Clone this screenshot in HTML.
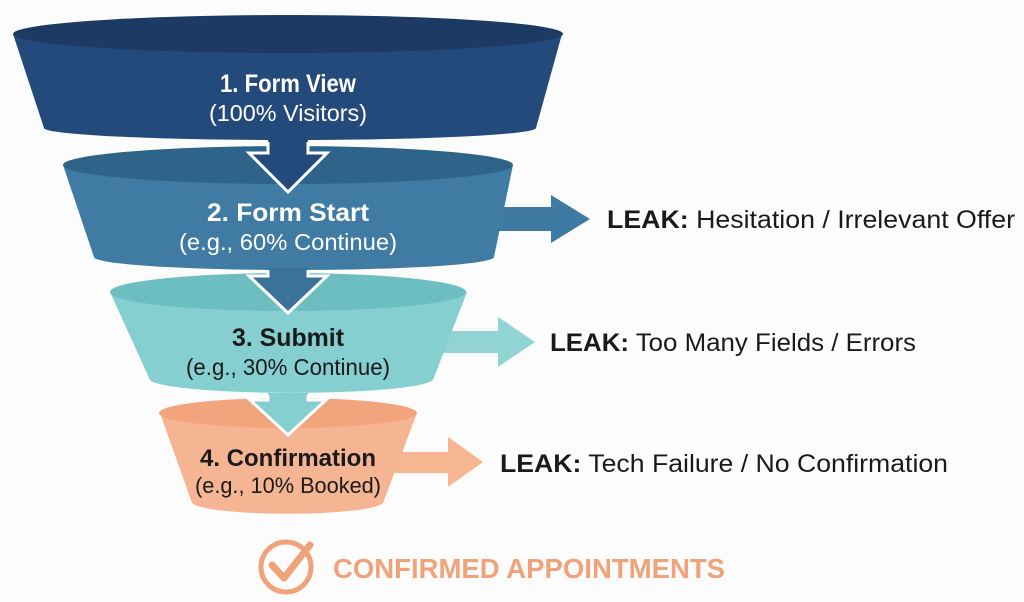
<!DOCTYPE html>
<html><head><meta charset="utf-8"><style>
html,body{margin:0;padding:0;background:#fcfcfc;width:1024px;height:602px;overflow:hidden}
text{font-family:"Liberation Sans",sans-serif}
</style></head><body>
<svg width="1024" height="602" viewBox="0 0 1024 602" xmlns="http://www.w3.org/2000/svg">
<rect width="1024" height="602" fill="#fcfcfc"/>
<polygon points="480,207 551,207 551,195 590,219 551,243 551,231 480,231" fill="#3f7aa2"/>
<polygon points="440,331 498,331 498,317 535,342 498,367 498,353 440,353" fill="#92d3d4"/>
<polygon points="380,452 448,452 448,437 483,462 448,487 448,473 380,473" fill="#f6b690"/>

<path d="M13,34 L44,128 A246,12 0 0 0 536,128 L562,34 Z" fill="#244a7c"/>
<ellipse cx="288" cy="34" rx="275" ry="19" fill="#1c3a63"/>
<path d="M63,165 L94,257 A200,13 0 0 0 494,257 L513,165 Z" fill="#3f7ba2"/>
<ellipse cx="288" cy="165" rx="225" ry="19" fill="#2e6489"/>
<path d="M268,140 L268,153 L249,153 L288,192 L327,153 L308,153 L308,140 Z" fill="#244a7c"/>
<path d="M268,142 L268,153 L249,153 L288,192 L327,153 L308,153 L308,142" fill="none" stroke="#fff" stroke-width="3"/>
<path d="M110,292 L150,380 A142,14 0 0 0 433,380 L467,292 Z" fill="#86cfd0"/>
<ellipse cx="288" cy="292" rx="178" ry="19" fill="#6cbec1"/>
<path d="M268,268 L268,276 L249,276 L288,313 L327,276 L308,276 L308,268 Z" fill="#3a729a"/>
<path d="M268,270 L268,276 L249,276 L288,313 L327,276 L308,276 L308,270" fill="none" stroke="#fff" stroke-width="3"/>
<path d="M160,413 L192,503 A96,12 0 0 0 383,503 L417,413 Z" fill="#f6b592"/>
<ellipse cx="288" cy="413" rx="129" ry="15" fill="#f2a57c"/>
<path d="M268,393 L268,400 L250,400 L288,435 L326,400 L308,400 L308,393 Z" fill="#86cfd0"/>
<path d="M268,395 L268,400 L250,400 L288,435 L326,400 L308,400 L308,395" fill="none" stroke="#fff" stroke-width="3"/>

<g text-anchor="middle" lengthAdjust="spacingAndGlyphs">
<text x="288" y="92" font-size="25" font-weight="bold" fill="#fff" textLength="136" lengthAdjust="spacingAndGlyphs">1. Form View</text>
<text x="288" y="121" font-size="23" fill="#fff" textLength="158" lengthAdjust="spacingAndGlyphs">(100% Visitors)</text>
<text x="288" y="221" font-size="25" font-weight="bold" fill="#fff" textLength="162" lengthAdjust="spacingAndGlyphs">2. Form Start</text>
<text x="288" y="250" font-size="23" fill="#fff" textLength="218" lengthAdjust="spacingAndGlyphs">(e.g., 60% Continue)</text>
<text x="288" y="346" font-size="25" font-weight="bold" fill="#1a1a1a" textLength="112" lengthAdjust="spacingAndGlyphs">3. Submit</text>
<text x="288" y="375" font-size="23" fill="#1a1a1a" textLength="204" lengthAdjust="spacingAndGlyphs">(e.g., 30% Continue)</text>
<text x="288" y="466" font-size="24" font-weight="bold" fill="#1a1a1a" textLength="176" lengthAdjust="spacingAndGlyphs">4. Confirmation</text>
<text x="288" y="493" font-size="22" fill="#1a1a1a" textLength="186" lengthAdjust="spacingAndGlyphs">(e.g., 10% Booked)</text>
</g>

<text x="607" y="228" font-size="25" fill="#1a1a1a" textLength="408" lengthAdjust="spacingAndGlyphs"><tspan font-weight="bold">LEAK:</tspan> Hesitation / Irrelevant Offer</text>
<text x="550" y="351" font-size="25" fill="#1a1a1a" textLength="366" lengthAdjust="spacingAndGlyphs"><tspan font-weight="bold">LEAK:</tspan> Too Many Fields / Errors</text>
<text x="500" y="472" font-size="25" fill="#1a1a1a" textLength="448" lengthAdjust="spacingAndGlyphs"><tspan font-weight="bold">LEAK:</tspan> Tech Failure / No Confirmation</text>

<circle cx="286" cy="567" r="25" fill="none" stroke="#f0a37a" stroke-width="5"/>
<path d="M272,565 L284,578 L310,545" fill="none" stroke="#f0a37a" stroke-width="7" stroke-linecap="round" stroke-linejoin="round"/>
<text x="333" y="578" font-size="28" font-weight="bold" fill="#f0a37a" textLength="392" lengthAdjust="spacingAndGlyphs">CONFIRMED APPOINTMENTS</text>
</svg>
</body></html>
